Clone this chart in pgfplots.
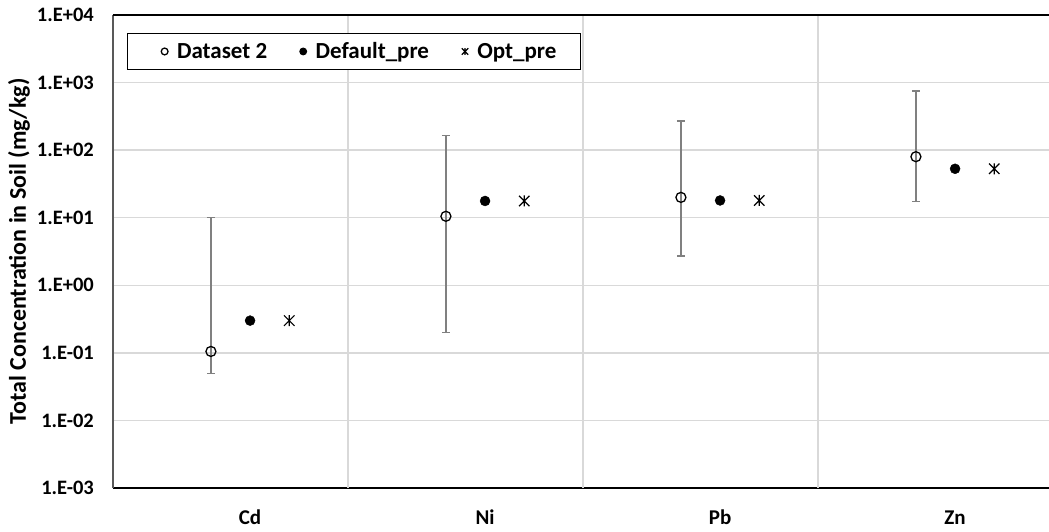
\documentclass[border=0pt]{standalone}
\usepackage{fontspec}
\setmainfont{Carlito}
\usepackage{pgfplots}
\usepackage{pgfplotstable}
\pgfplotsset{compat=1.18}

\definecolor{gridc}{RGB}{217,217,217}
\definecolor{errc}{RGB}{128,128,128}
\definecolor{spinec}{RGB}{89,89,89}

% asterisk with a vertical bar and two diagonals
\pgfdeclareplotmark{xast}{%
  \pgfpathmoveto{\pgfqpoint{0pt}{\pgfplotmarksize}}%
  \pgfpathlineto{\pgfqpoint{0pt}{-\pgfplotmarksize}}%
  \pgfpathmoveto{\pgfqpoint{-0.95\pgfplotmarksize}{-0.95\pgfplotmarksize}}%
  \pgfpathlineto{\pgfqpoint{0.95\pgfplotmarksize}{0.95\pgfplotmarksize}}%
  \pgfpathmoveto{\pgfqpoint{-0.95\pgfplotmarksize}{0.95\pgfplotmarksize}}%
  \pgfpathlineto{\pgfqpoint{0.95\pgfplotmarksize}{-0.95\pgfplotmarksize}}%
  \pgfusepathqstroke}

% Dataset 2: value, upper and lower distance of the range
\pgfplotstableread{
x      y     ep     em
0.4167 0.105 9.895  0.055
1.4167 10.5  153.5  10.3
2.4167 20    250    17.3
3.4167 80    670    62.5
}\dstwo

\pgfplotstableread{
x      y
0.5833 0.30
1.5833 17.7
2.5833 18.0
3.5833 53
}\defpre

\pgfplotstableread{
x      y
0.75   0.30
1.75   17.7
2.75   18.0
3.75   53
}\optpre

\begin{document}
\begin{tikzpicture}
\begin{axis}[
    name=ax,
    scale only axis,
    width=936pt, height=473pt,
    ymode=log,
    xmin=0, xmax=3.983,
    ymin=1e-3, ymax=1e4,
    axis x line*=bottom,
    axis y line*=left,
    x axis line style={black, line width=1.5pt},
    y axis line style={spinec, line width=1.5pt},
    xtick={0.5833,1.5833,2.5833,3.5833},
    xticklabels={Cd,Ni,Pb,Zn},
    extra x ticks={1,2,3},
    extra x tick labels={},
    extra x tick style={xmajorgrids=true},
    ytick={1e-3,1e-2,1e-1,1,1e1,1e2,1e3,1e4},
    yticklabels={1.E-03,1.E-02,1.E-01,1.E+00,1.E+01,1.E+02,1.E+03,1.E+04},
    yminorticks=false,
    ymajorgrids=true,
    major tick length=0pt,
    grid style={gridc, line width=1.3pt},
    tick label style={font=\fontsize{20.5}{23}\selectfont\bfseries},
    yticklabel style={anchor=east, inner sep=0pt, xshift=-19pt},
    xticklabel style={anchor=base, inner sep=0pt, yshift=-36pt, font=\fontsize{21}{23}\selectfont\bfseries},
    ylabel={Total Concentration in Soil (mg/kg)},
    ylabel style={at={(axis description cs:0,0.5)}, anchor=center, yshift=94pt,
        font=\fontsize{24}{26}\selectfont\bfseries},
    clip=false,
    legend columns=-1,
    legend style={at={(0,1)}, anchor=north west, xshift=14pt, yshift=-18pt,
        draw=black, line width=1.3pt,
        font=\fontsize{23}{26}\selectfont\bfseries,
        nodes={inner ysep=7pt},
        /tikz/every odd column/.append style={column sep=7pt},
        /tikz/every even column/.append style={column sep=0pt}},
    legend image code/.code={\path[draw=none] (-34pt,0pt) rectangle (0pt,0pt);
        \draw[#1, mark size=3.4pt, line width=1pt] plot coordinates {(0pt,0pt)};},
]
\addplot[only marks, mark=o, mark size=5pt, mark options={fill=white, draw=black, line width=1.3pt},
    error bars/.cd, y dir=both, y explicit,
    error bar style={errc, line width=1.3pt},
    error mark options={rotate=90, errc, mark size=4pt, line width=1.3pt}]
    table[x=x, y=y, y error plus=ep, y error minus=em] {\dstwo};
\addlegendentry{Dataset 2}
\addplot[only marks, mark=*, mark size=5pt, mark options={fill=black, draw=black}]
    table[x=x, y=y] {\defpre};
\addlegendentry{Default\_pre}
\addplot[only marks, mark=xast, mark size=5.5pt, mark options={black, line width=1.2pt}]
    table[x=x, y=y] {\optpre};
\addlegendentry{Opt\_pre\kern19pt}
\draw[black, line width=1.5pt] (rel axis cs:0,1) -- (rel axis cs:1,1);
\end{axis}
\pgfresetboundingbox
\path[use as bounding box] ([shift={(-113pt,-43pt)}]ax.south west) rectangle ([shift={(0pt,15pt)}]ax.north east);
\end{tikzpicture}
\end{document}
